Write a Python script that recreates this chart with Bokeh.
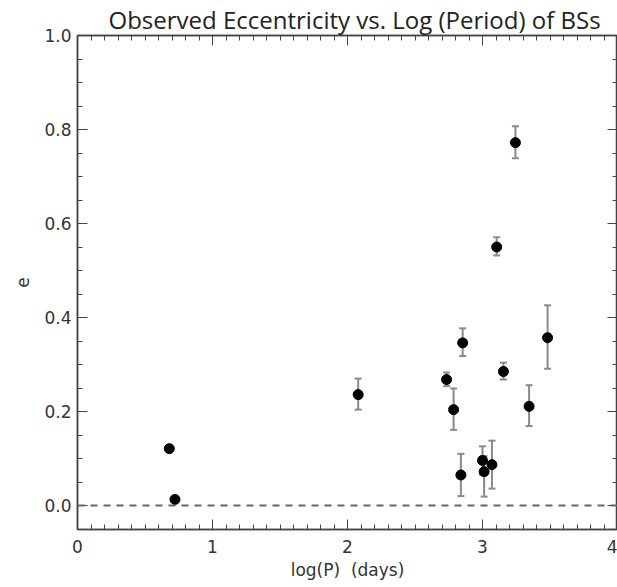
from bokeh.plotting import figure
from bokeh.models import (LinearAxis, Range1d, Span, Whisker, ColumnDataSource,
                          SingleIntervalTicker, PrintfTickFormatter, TeeHead,
                          CustomJSTickFormatter)
from bokeh.embed import file_html
from bokeh.resources import INLINE

# Data
log_period = [0.68, 0.722, 2.079, 2.734, 2.786, 2.853, 2.840, 3.000, 3.012, 3.070, 3.105, 3.155, 3.244, 3.345, 3.482]
ecc        = [0.121, 0.013, 0.236, 0.268, 0.204, 0.346, 0.065, 0.096, 0.072, 0.087, 0.550, 0.285, 0.772, 0.211, 0.357]
ecc_lower  = [0.121, 0.007, 0.204, 0.254, 0.161, 0.318, 0.020, 0.066, 0.019, 0.036, 0.532, 0.268, 0.739, 0.169, 0.291]
ecc_upper  = [0.121, 0.020, 0.270, 0.283, 0.249, 0.377, 0.110, 0.126, 0.105, 0.138, 0.571, 0.304, 0.807, 0.256, 0.426]

title_text = "Observed Eccentricity vs. Log (Period) of BSs"
x_title = "log(P)\u00a0\u00a0(days)"
y_title = "e"

src = ColumnDataSource(dict(x=log_period, y=ecc, lo=ecc_lower, hi=ecc_upper))

p = figure(width=617, height=587, output_backend="svg", toolbar_location=None,
           x_range=Range1d(0, 4), y_range=Range1d(-0.051, 1.0),
           min_border_left=77, min_border_right=0, min_border_top=35, min_border_bottom=58)
p.xgrid.visible = False
p.ygrid.visible = False
p.outline_line_color = "#444444"
p.outline_line_width = 1.5
p.background_fill_color = "white"
p.border_fill_color = "white"

p.title.text = title_text
p.title.text_font = "Open Sans"
p.title.text_font_size = "24px"
p.title.text_font_style = "normal"
p.title.text_color = "#222222"
p.title.align = "left"
p.title.offset = 31
p.title.standoff = 0

AX = "#444444"
LBL = "#333333"
FONT = "DejaVu Sans"

def style_axis(ax, show_labels):
    ax.major_tick_in = 10
    ax.major_tick_out = 0
    ax.minor_tick_in = 5
    ax.minor_tick_out = 0
    ax.major_tick_line_color = AX
    ax.minor_tick_line_color = AX
    ax.axis_line_color = AX
    ax.axis_line_width = 1.5
    if show_labels:
        ax.major_label_text_font = FONT
        ax.major_label_text_font_size = "17px"
        ax.major_label_text_color = LBL
        ax.axis_label_text_font = FONT
        ax.axis_label_text_font_size = "17px"
        ax.axis_label_text_font_style = "normal"
        ax.axis_label_text_color = LBL
    else:
        ax.formatter = CustomJSTickFormatter(code="return '';")
        ax.major_label_standoff = 0
        ax.axis_label = None

p.xaxis.ticker = SingleIntervalTicker(interval=1, num_minor_ticks=10)
p.yaxis.ticker = SingleIntervalTicker(interval=0.2, num_minor_ticks=4)
p.xaxis.formatter = PrintfTickFormatter(format="%d")
p.yaxis.formatter = PrintfTickFormatter(format="%.1f")
p.xaxis.axis_label = x_title
p.yaxis.axis_label = y_title
for ax in p.xaxis:
    style_axis(ax, True)
    ax.major_label_standoff = 10
    ax.axis_label_standoff = 4
for ax in p.yaxis:
    style_axis(ax, True)
    ax.major_label_standoff = 6
    ax.axis_label_standoff = 12

top = LinearAxis(ticker=SingleIntervalTicker(interval=1, num_minor_ticks=10))
right = LinearAxis(ticker=SingleIntervalTicker(interval=0.2, num_minor_ticks=4))
style_axis(top, False)
style_axis(right, False)
p.add_layout(top, "above")
p.add_layout(right, "right")

p.add_layout(Span(location=0, dimension="width", line_color="#666666",
                  line_width=2, line_dash="7 6"))

p.add_layout(Whisker(source=src, base="x", lower="lo", upper="hi",
                     line_color="#8a8a8a", line_width=2,
                     upper_head=TeeHead(size=7, line_color="#8a8a8a", line_width=2),
                     lower_head=TeeHead(size=7, line_color="#8a8a8a", line_width=2)))

p.scatter("x", "y", source=src, size=10, color="black")

open("out.html", "w").write(file_html(p, INLINE))
